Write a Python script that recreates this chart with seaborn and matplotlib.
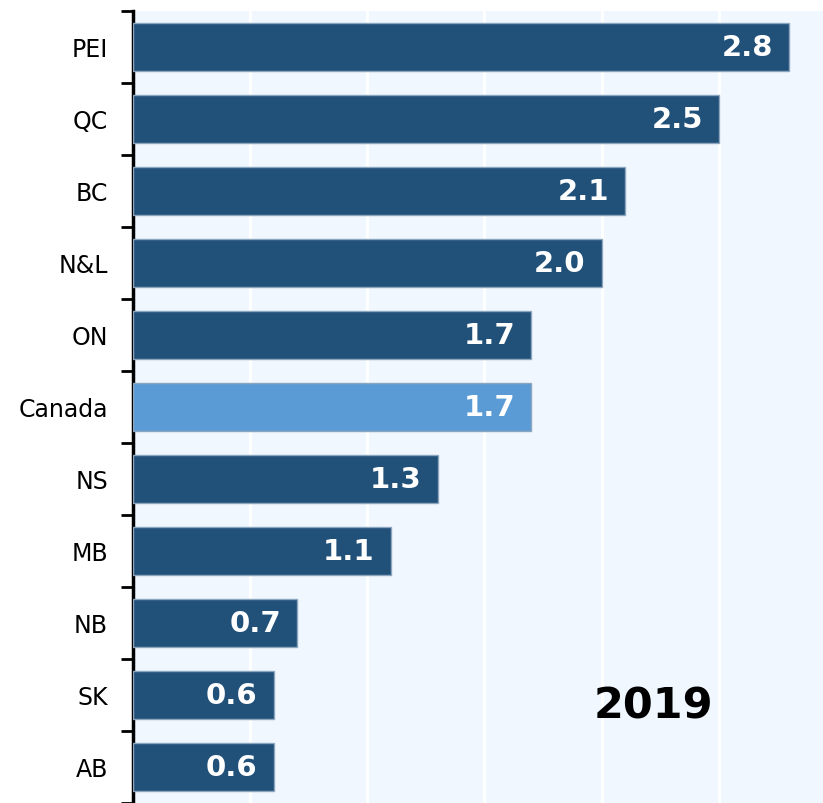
import pandas as pd
import seaborn as sns
import matplotlib.pyplot as plt

# data
provinces = ['PEI', 'QC', 'BC', 'N&L', 'ON', 'Canada', 'NS', 'MB', 'NB', 'SK', 'AB']
values = [2.8, 2.5, 2.1, 2.0, 1.7, 1.7, 1.3, 1.1, 0.7, 0.6, 0.6]
year_label = '2019'

dark = '#215079'
light = '#5B9BD5'
colors = {p: (light if p == 'Canada' else dark) for p in provinces}

df = pd.DataFrame({'prov': provinces, 'val': values})

sns.set_style('white')
plt.rcParams['font.family'] = ['DejaVu Sans']

fig = plt.figure(figsize=(8.23, 8.04), dpi=100)
ax = fig.add_axes([133 / 823, -2 / 804, (823 - 133) / 823, (804 - 12 + 2) / 804])
ax.set_facecolor('#F0F7FE')

sns.barplot(data=df, y='prov', x='val', hue='prov', palette=colors, legend=False,
            orient='h', width=0.66, saturation=1, edgecolor='#8DA6BF', linewidth=1,
            ax=ax, zorder=3)

# value labels inside the bar ends
for i, v in enumerate(values):
    ax.annotate(f'{v:.1f}', xy=(v, i), xytext=(-16, 0), textcoords='offset pixels',
                ha='right', va='center', color='white', fontsize=21, fontweight='bold',
                zorder=4)

ax.text(0.754, 0.125, year_label, transform=ax.transAxes, ha='center', va='center',
        fontsize=31, fontweight='bold', color='black', zorder=4)

ax.set_xlim(0, 2.945)
ax.set_ylim(len(provinces) - 0.5 + 0.03, -0.5)

# white vertical gridlines every 0.5
ax.set_xticks([0.5, 1.0, 1.5, 2.0, 2.5])
ax.xaxis.grid(True, color='white', linewidth=2, zorder=1)
ax.tick_params(axis='x', length=0, labelbottom=False)

# y ticks: no marks at labels, marks at category boundaries
ax.tick_params(axis='y', which='major', length=0, labelsize=17, pad=18,
               labelcolor='black')
ax.set_yticks([i - 0.5 for i in range(len(provinces) + 1)], minor=True)
ax.tick_params(axis='y', which='minor', left=True, length=9, width=2,
               color='black', direction='out')

for s in ['top', 'right', 'bottom']:
    ax.spines[s].set_visible(False)
ax.spines['left'].set_color('black')
ax.spines['left'].set_linewidth(2.5)

ax.set_xlabel('')
ax.set_ylabel('')

fig.savefig('out.png', dpi=100)
